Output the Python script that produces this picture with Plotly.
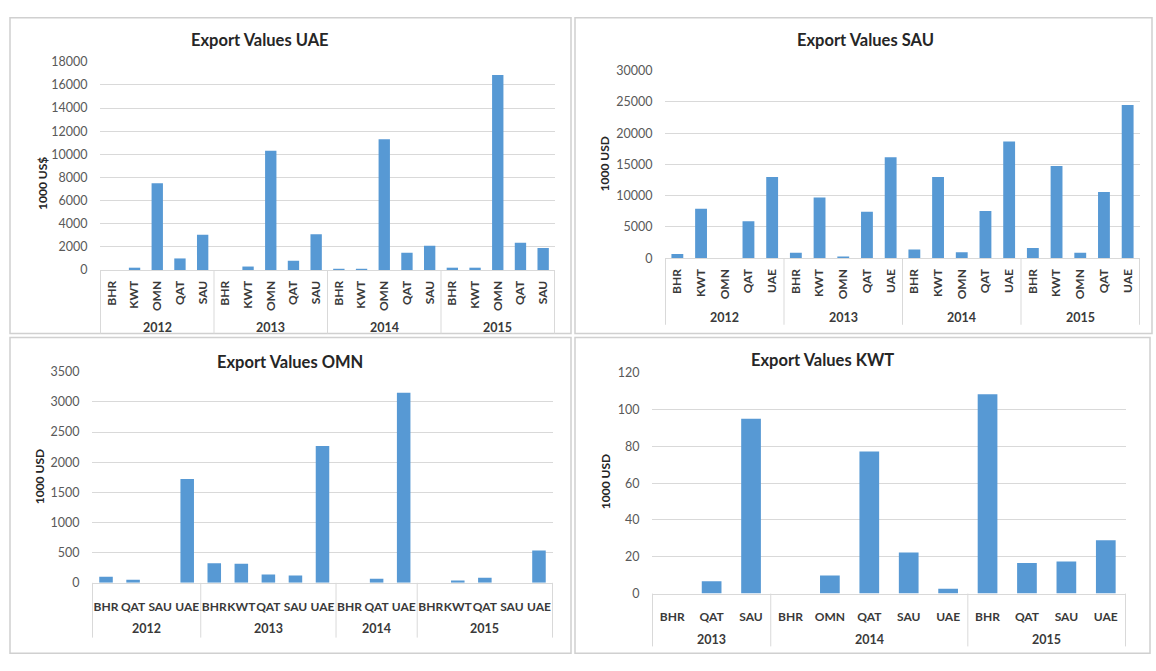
import plotly.graph_objects as go

# ---------------- data ----------------
UAE_YEARS = ["2012", "2013", "2014", "2015"]
UAE_PARTNERS = ["BHR", "KWT", "OMN", "QAT", "SAU"]
UAE_2012 = [0, 200, 7500, 1000, 3050]
UAE_2013 = [0, 300, 10300, 800, 3100]
UAE_2014 = [100, 100, 11300, 1500, 2100]
UAE_2015 = [200, 200, 16850, 2350, 1900]

SAU_YEARS = ["2012", "2013", "2014", "2015"]
SAU_PARTNERS = ["BHR", "KWT", "OMN", "QAT", "UAE"]
SAU_2012 = [700, 7900, 0, 5900, 13000]
SAU_2013 = [900, 9700, 250, 7450, 16150]
SAU_2014 = [1400, 13000, 950, 7550, 18650]
SAU_2015 = [1650, 14750, 900, 10600, 24500]

OMN_2012_PARTNERS = ["BHR", "QAT", "SAU", "UAE"]
OMN_2012 = [100, 50, 0, 1720]
OMN_2013_PARTNERS = ["BHR", "KWT", "QAT", "SAU", "UAE"]
OMN_2013 = [325, 315, 140, 120, 2270]
OMN_2014_PARTNERS = ["BHR", "QAT", "UAE"]
OMN_2014 = [0, 70, 3150]
OMN_2015_PARTNERS = ["BHR", "KWT", "QAT", "SAU", "UAE"]
OMN_2015 = [0, 40, 85, 0, 535]

KWT_2013_PARTNERS = ["BHR", "QAT", "SAU"]
KWT_2013 = [0, 6.7, 95]
KWT_2014_PARTNERS = ["BHR", "OMN", "QAT", "SAU", "UAE"]
KWT_2014 = [0, 9.8, 77.2, 22.3, 2.7]
KWT_2015_PARTNERS = ["BHR", "QAT", "SAU", "UAE"]
KWT_2015 = [108.3, 16.6, 17.5, 29]

CHART_TITLES = ["Export Values UAE", "Export Values SAU", "Export Values OMN", "Export Values KWT"]
Y_TITLES = ["1000 US$", "1000 USD", "1000 USD", "1000 USD"]


def build(groups):
    keys, labels, vals, spans = [], [], [], []
    for year, partners, values in groups:
        start = len(keys)
        for p, v in zip(partners, values):
            keys.append(year + "|" + p)
            labels.append(p)
            vals.append(v)
        spans.append((year, start, len(keys)))
    return keys, labels, vals, spans


uae = build([(y, UAE_PARTNERS, v) for y, v in zip(UAE_YEARS, [UAE_2012, UAE_2013, UAE_2014, UAE_2015])])
sau = build([(y, SAU_PARTNERS, v) for y, v in zip(SAU_YEARS, [SAU_2012, SAU_2013, SAU_2014, SAU_2015])])
omn = build([("2012", OMN_2012_PARTNERS, OMN_2012), ("2013", OMN_2013_PARTNERS, OMN_2013),
             ("2014", OMN_2014_PARTNERS, OMN_2014), ("2015", OMN_2015_PARTNERS, OMN_2015)])
kwt = build([("2013", KWT_2013_PARTNERS, KWT_2013), ("2014", KWT_2014_PARTNERS, KWT_2014),
             ("2015", KWT_2015_PARTNERS, KWT_2015)])

W, H = 1156, 671
FONT = "Lato"
BAR = "#5799d4"
GRID = "#d9d9d9"
TXT = "#595959"
DARK = "#3a3a3a"


def px(x):
    return x / W


def py(y):
    return 1 - y / H


fig = go.Figure()

panels = [
    # data, axis suffix, x px range, y px (bottom, top), ymax, dtick, tickangle, ticklen,
    # year label y, divider bottom y, title pos, ytitle pos
    (uae, "", (100, 555), (268, 55), 18000, 2000, -90, 5, 327, 333, (260, 33), (43, 180)),
    (sau, "2", (665, 1140), (256, 64), 30000, 5000, -90, 5, 317, 324, (865, 33), (604, 160)),
    (omn, "3", (92, 553), (588, 372), 3500, 500, 0, 13, 635, 644, (290, 362), (39, 480)),
    (kwt, "4", (652, 1126), (599, 373), 120, 20, 0, 12, 646, 653, (822, 360), (605, 485)),
]

for i, (d, s, (x0, x1), (yb, yt), ymax, dt, ang, tl, yy, ydiv, tpos, ypos) in enumerate(panels):
    keys, labels, vals, spans = d
    xa, ya = "x" + s, "y" + s
    fig.add_trace(go.Bar(x=keys, y=vals, xaxis=xa, yaxis=ya,
                         marker=dict(color=BAR, line=dict(width=0)), showlegend=False))
    fig.update_layout(**{
        "xaxis" + s: dict(domain=[px(x0), px(x1)], anchor=ya, type="category",
                          tickvals=keys, ticktext=labels,
                          showgrid=False, showline=True, linecolor=GRID, linewidth=1,
                          tickangle=ang, ticks="outside", ticklen=tl, tickcolor="rgba(0,0,0,0)",
                          tickfont=dict(family=FONT, size=12, color=DARK, weight="bold"),
                          fixedrange=True),
        "yaxis" + s: dict(domain=[py(yb), py(yt)], anchor=xa, range=[0, ymax], dtick=dt,
                          tickformat="d",
                          showgrid=True, gridcolor=GRID, gridwidth=1, zeroline=False, showline=False,
                          ticks="outside", ticklen=9, tickcolor="rgba(0,0,0,0)",
                          tickfont=dict(family=FONT, size=12.5, color=TXT), fixedrange=True),
    })
    # year group labels and dividers
    for year, a, b in spans:
        fig.add_annotation(text=year, x=(a + b - 1) / 2, y=py(yy), xref=xa, yref="paper",
                           showarrow=False, xanchor="center", yanchor="middle",
                           font=dict(family=FONT, size=12.5, color=DARK, weight="bold"))
        fig.add_shape(type="line", xref=xa, yref="paper", x0=a - 0.5, x1=a - 0.5,
                      y0=py(yb), y1=py(ydiv), line=dict(color=GRID, width=1))
    last = spans[-1][2]
    fig.add_shape(type="line", xref=xa, yref="paper", x0=last - 0.5, x1=last - 0.5,
                  y0=py(yb), y1=py(ydiv), line=dict(color=GRID, width=1))
    # titles
    fig.add_annotation(text=CHART_TITLES[i], x=px(tpos[0]), y=py(tpos[1]), xref="paper", yref="paper",
                       showarrow=False, xanchor="center", yanchor="middle",
                       font=dict(family=FONT, size=16.5, color="#262626", weight="bold"))
    fig.add_annotation(text=Y_TITLES[i], x=px(ypos[0]), y=py(ypos[1]), xref="paper", yref="paper",
                       showarrow=False, xanchor="center", yanchor="middle", textangle=-90,
                       font=dict(family=FONT, size=12, color="#262626", weight="bold"))

# panel frames
frames = [(10, 10, 571, 333), (575, 10, 1152, 333), (10, 337, 571, 660), (575, 337, 1150, 660)]
for x0, y0, x1, y1 in frames:
    fig.add_shape(type="rect", xref="paper", yref="paper", x0=px(x0), x1=px(x1), y0=py(y0), y1=py(y1),
                  line=dict(color="#d0d0d0", width=1.5), layer="below")

fig.update_layout(width=W, height=H, margin=dict(l=0, r=0, t=0, b=0), bargap=0.5,
                  paper_bgcolor="white", plot_bgcolor="white",
                  font=dict(family=FONT))

fig.write_html("out.html", config={"displayModeBar": False})
